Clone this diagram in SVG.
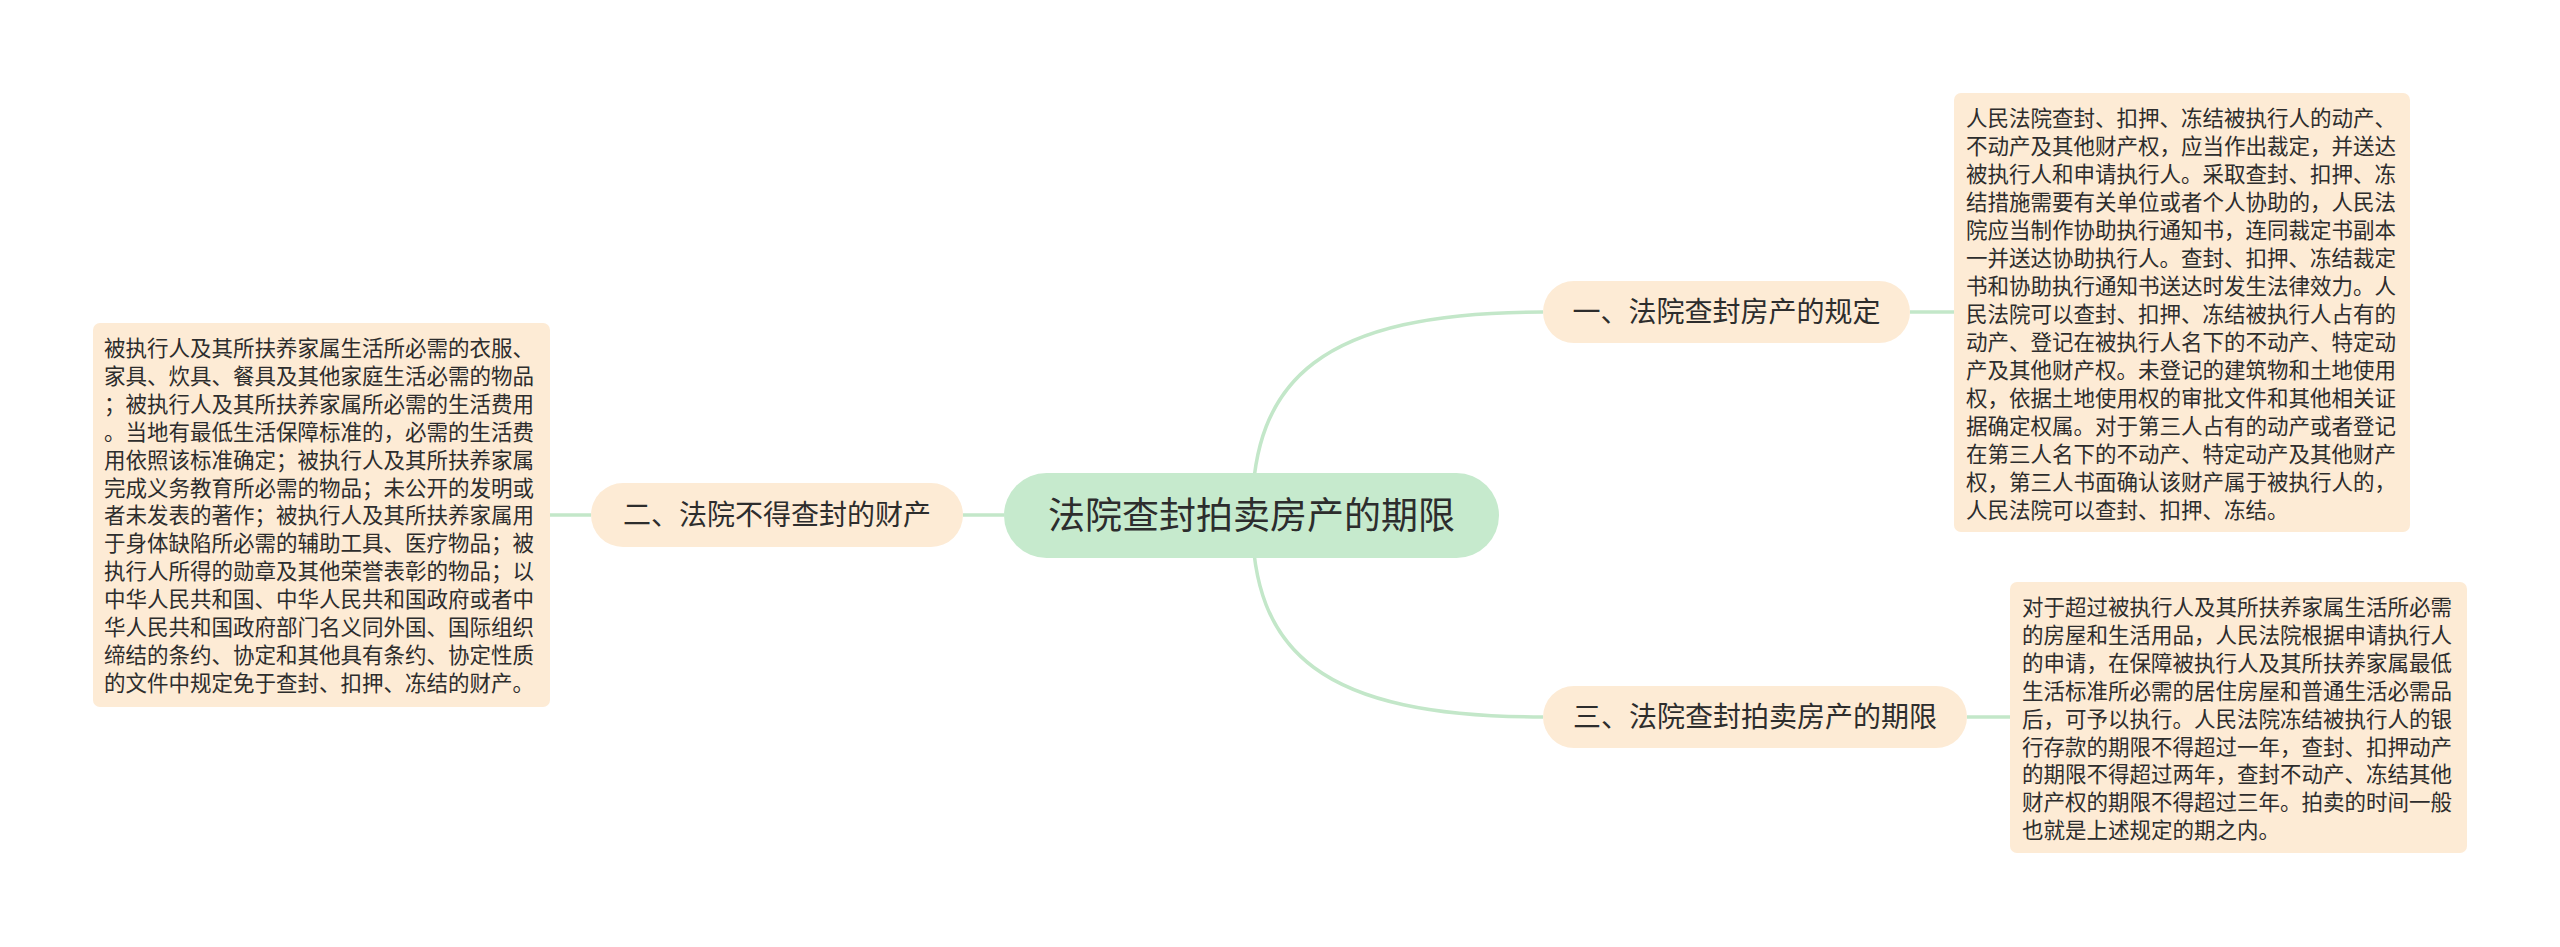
<svg xmlns="http://www.w3.org/2000/svg" width="2560" height="947" viewBox="0 0 2560 947">
<style>
.bg{fill:#ffffff}
.link{fill:none;stroke:#c3e7c9;stroke-width:3.5}
.root{fill:#c6eacd}
.branch{fill:#fdebd5}
.leaf{fill:#fdebd5}
text{font-family:"Noto Sans CJK SC","Microsoft YaHei",sans-serif;fill:#2d2d2d}
.t-root{font-size:37px;text-anchor:middle}
.t-branch{font-size:28px;text-anchor:middle}
.t-leaf{font-size:21.5px}
</style>
<rect class="bg" x="0" y="0" width="2560" height="947"/>
<g id="connectors">
<path class="link" d="M1252 516 C1252 380 1320 312 1543 312"/>
<path class="link" d="M1252 516 C1252 652 1320 717 1543 717"/>
<path class="link" d="M1004 515 L963 515"/>
<path class="link" d="M591 515 L550 515"/>
<path class="link" d="M1910 312 L1954 312"/>
<path class="link" d="M1967 717 L2010 717"/>
</g>
<g id="root">
<rect class="root" x="1004" y="473" width="495" height="85" rx="42.5"/>
<text class="t-root" x="1251.5" y="529">法院查封拍卖房产的期限</text>
</g>
<g id="branch1">
<rect class="branch" x="1543" y="281" width="367" height="62" rx="31"/>
<text class="t-branch" x="1726.5" y="322">一、法院查封房产的规定</text>
</g>
<g id="branch2">
<rect class="branch" x="591" y="483" width="372" height="64" rx="32"/>
<text class="t-branch" x="777" y="525">二、法院不得查封的财产</text>
</g>
<g id="branch3">
<rect class="branch" x="1543" y="686" width="424" height="62" rx="31"/>
<text class="t-branch" x="1755" y="727">三、法院查封拍卖房产的期限</text>
</g>
<g id="leaf1">
<rect class="leaf" x="1954" y="93" width="456" height="439" rx="7"/>
<text class="t-leaf">
<tspan x="1966" y="125.5">人民法院查封、扣押、冻结被执行人的动产、</tspan>
<tspan x="1966" y="153.5">不动产及其他财产权，应当作出裁定，并送达</tspan>
<tspan x="1966" y="181.5">被执行人和申请执行人。采取查封、扣押、冻</tspan>
<tspan x="1966" y="209.5">结措施需要有关单位或者个人协助的，人民法</tspan>
<tspan x="1966" y="237.5">院应当制作协助执行通知书，连同裁定书副本</tspan>
<tspan x="1966" y="265.5">一并送达协助执行人。查封、扣押、冻结裁定</tspan>
<tspan x="1966" y="293.5">书和协助执行通知书送达时发生法律效力。人</tspan>
<tspan x="1966" y="321.5">民法院可以查封、扣押、冻结被执行人占有的</tspan>
<tspan x="1966" y="349.5">动产、登记在被执行人名下的不动产、特定动</tspan>
<tspan x="1966" y="377.5">产及其他财产权。未登记的建筑物和土地使用</tspan>
<tspan x="1966" y="405.5">权，依据土地使用权的审批文件和其他相关证</tspan>
<tspan x="1966" y="433.5">据确定权属。对于第三人占有的动产或者登记</tspan>
<tspan x="1966" y="461.5">在第三人名下的不动产、特定动产及其他财产</tspan>
<tspan x="1966" y="489.5">权，第三人书面确认该财产属于被执行人的，</tspan>
<tspan x="1966" y="517.5">人民法院可以查封、扣押、冻结。</tspan>
</text>
</g>
<g id="leaf2">
<rect class="leaf" x="93" y="323" width="457" height="384" rx="7"/>
<text class="t-leaf">
<tspan x="104" y="356">被执行人及其所扶养家属生活所必需的衣服、</tspan>
<tspan x="104" y="383.9">家具、炊具、餐具及其他家庭生活必需的物品</tspan>
<tspan x="104" y="411.8">；被执行人及其所扶养家属所必需的生活费用</tspan>
<tspan x="104" y="439.7">。当地有最低生活保障标准的，必需的生活费</tspan>
<tspan x="104" y="467.6">用依照该标准确定；被执行人及其所扶养家属</tspan>
<tspan x="104" y="495.5">完成义务教育所必需的物品；未公开的发明或</tspan>
<tspan x="104" y="523.4">者未发表的著作；被执行人及其所扶养家属用</tspan>
<tspan x="104" y="551.3">于身体缺陷所必需的辅助工具、医疗物品；被</tspan>
<tspan x="104" y="579.2">执行人所得的勋章及其他荣誉表彰的物品；以</tspan>
<tspan x="104" y="607.1">中华人民共和国、中华人民共和国政府或者中</tspan>
<tspan x="104" y="635">华人民共和国政府部门名义同外国、国际组织</tspan>
<tspan x="104" y="662.9">缔结的条约、协定和其他具有条约、协定性质</tspan>
<tspan x="104" y="690.8">的文件中规定免于查封、扣押、冻结的财产。</tspan>
</text>
</g>
<g id="leaf3">
<rect class="leaf" x="2010" y="582" width="457" height="271" rx="7"/>
<text class="t-leaf">
<tspan x="2022" y="615">对于超过被执行人及其所扶养家属生活所必需</tspan>
<tspan x="2022" y="642.9">的房屋和生活用品，人民法院根据申请执行人</tspan>
<tspan x="2022" y="670.8">的申请，在保障被执行人及其所扶养家属最低</tspan>
<tspan x="2022" y="698.7">生活标准所必需的居住房屋和普通生活必需品</tspan>
<tspan x="2022" y="726.6">后，可予以执行。人民法院冻结被执行人的银</tspan>
<tspan x="2022" y="754.5">行存款的期限不得超过一年，查封、扣押动产</tspan>
<tspan x="2022" y="782.4">的期限不得超过两年，查封不动产、冻结其他</tspan>
<tspan x="2022" y="810.3">财产权的期限不得超过三年。拍卖的时间一般</tspan>
<tspan x="2022" y="838.2">也就是上述规定的期之内。</tspan>
</text>
</g>
</svg>
